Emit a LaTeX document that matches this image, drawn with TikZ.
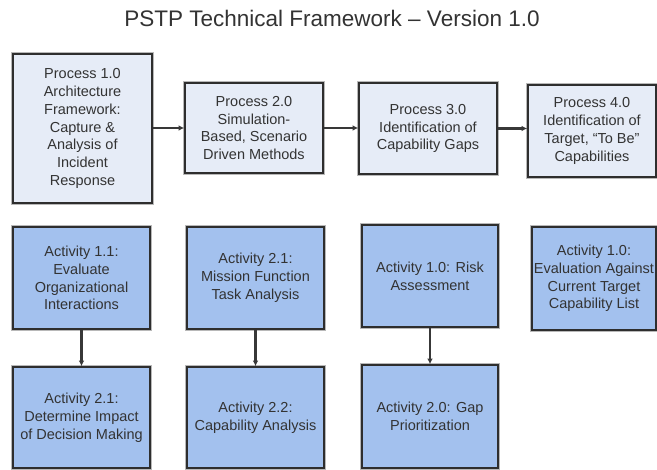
\documentclass[tikz,border=0pt]{standalone}
\usepackage{fontspec}
\setmainfont{Liberation Sans}
\usetikzlibrary{arrows.meta}
\definecolor{procfill}{HTML}{E6ECF7}
\definecolor{actfill}{HTML}{A3C1EE}
\definecolor{edgecol}{HTML}{2E2E2E}
\definecolor{halo}{HTML}{B8B8B8}
\definecolor{txt}{HTML}{333333}
\definecolor{linkcol}{HTML}{383838}
\tikzset{
  box/.style={draw=edgecol, line width=1.6pt, inner sep=0pt, align=center,
    text=txt, font=\fontsize{14.5}{17.8}\selectfont,
    preaction={draw=halo, line width=3.4pt}},
  procbox/.style={box, fill=procfill},
  actbox/.style={box, fill=actfill},
  link/.style={draw=linkcol, line width=2.1pt,
    -{Latex[length=5.5pt,width=5.5pt]}},
}
\begin{document}
\begin{tikzpicture}[x=1pt, y=-1pt]
\useasboundingbox (0,0) rectangle (657,470);
\fill[white] (0,0) rectangle (657,470);

% title
\node[text=txt, font=\fontsize{22.5}{26}\selectfont, anchor=base] (title) at (332,27)
  {PSTP Technical Framework – Version 1.0};

% process row
\node[procbox, minimum width=139pt, minimum height=149pt] (p1) at (82.5,128.5)
  {Process 1.0\\Architecture\\Framework:\\Capture \&\\Analysis of\\Incident\\Response};
\node[procbox, minimum width=138pt, minimum height=90pt] (p2) at (254,128)
  {Process 2.0\\Simulation-\\Based, Scenario\\Driven Methods};
\node[procbox, minimum width=138pt, minimum height=91pt] (p3) at (428,128.5)
  {Process 3.0\\Identification of\\Capability Gaps};
\node[procbox, minimum width=128pt, minimum height=92pt] (p4) at (592,131)
  {Process 4.0\\Identification of\\Target, “To Be”\\Capabilities};

% first activity row
\node[actbox, minimum width=137pt, minimum height=102pt] (a11) at (81.5,278)
  {Activity 1.1:\\Evaluate\\Organizational\\Interactions};
\node[actbox, minimum width=137pt, minimum height=102pt] (a21) at (255.5,278)
  {Activity 2.1:\\Mission Function\\Task Analysis};
\node[actbox, minimum width=136pt, minimum height=102pt] (a10r) at (430,276)
  {Activity 1.0: Risk\\Assessment};
\node[actbox, minimum width=124pt, minimum height=103pt] (a10e) at (594,278.5)
  {Activity 1.0:\\Evaluation Against\\Current Target\\Capability List};

% second activity row
\node[actbox, minimum width=137pt, minimum height=101pt] (b1) at (81.5,417.5)
  {Activity 2.1:\\Determine Impact\\of Decision Making};
\node[actbox, minimum width=137pt, minimum height=101pt] (b2) at (255.5,417.5)
  {Activity 2.2:\\Capability Analysis};
\node[actbox, minimum width=136pt, minimum height=103pt] (b3) at (430,416.5)
  {Activity 2.0: Gap\\Prioritization};

% connectors
\draw[link] (p1.east |- p2.west) -- (p2.west);
\draw[link] (p2.east) -- (p2.east -| p3.west);
\draw[link] (p3.east) -- (p3.east -| p4.west);
\draw[link] (a11) -- (b1);
\draw[link] (a21) -- (b2);
\draw[link] (a10r) -- (b3);
\end{tikzpicture}
\end{document}
